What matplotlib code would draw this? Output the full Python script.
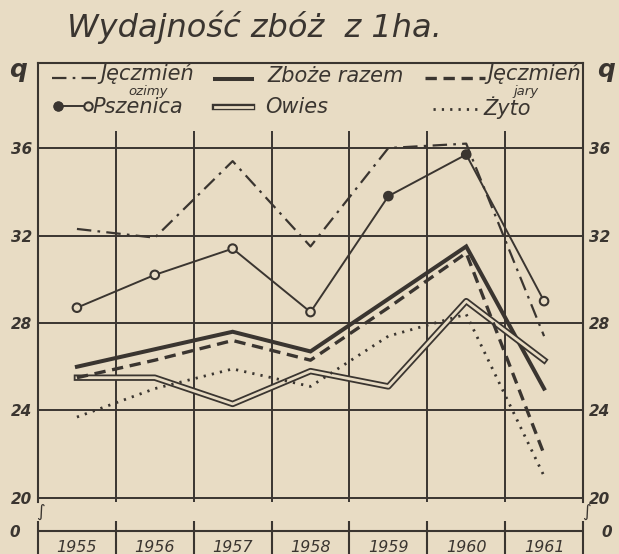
import matplotlib
matplotlib.use("Agg")
import numpy as np
import matplotlib.pyplot as plt
import matplotlib.patheffects as pe

# values (q per 1 ha)
years = ["1955", "1956", "1957", "1958", "1959", "1960", "1961"]
jeczmien_ozimy = [32.3, 31.9, 35.4, 31.5, 36.0, 36.2, 27.4]
pszenica = [28.7, 30.2, 31.4, 28.5, 33.8, 35.7, 29.0]
pszenica_filled = [False, False, False, False, True, True, False]
zboze_razem = [26.0, 26.8, 27.6, 26.7, 29.1, 31.5, 25.0]
owies = [25.5, 25.5, 24.3, 25.8, 25.1, 29.0, 26.3]
jeczmien_jary = [25.5, 26.3, 27.2, 26.3, 28.7, 31.2, 22.0]
zyto = [23.7, 25.0, 25.9, 25.1, 27.4, 28.4, 21.0]
yticks = [20, 24, 28, 32, 36]

ink = "#3a3530"
paper = "#e8dcc4"

W, H = 619, 554


def box(x0, y0, x1, y1):
    # pixel box -> figure fraction
    return [x0 / W, 1 - y1 / H, (x1 - x0) / W, (y1 - y0) / H]


fig = plt.figure(figsize=(6.19, 5.54), dpi=100, facecolor=paper)

# main panel (20 .. top)
ax = fig.add_axes(box(38, 63, 583, 502))
ax.set_facecolor("none")
ax.set_xlim(0, 7)
ax.set_ylim(19.817, 39.886)
ax.spines["bottom"].set_visible(False)
for s in ["left", "right", "top"]:
    ax.spines[s].set_color(ink)
    ax.spines[s].set_linewidth(1.5)
ax.set_xticks([])
ax.set_yticks(yticks)
ax.set_yticklabels([str(v) for v in yticks])
ax.tick_params(axis="y", length=0, labelleft=True, labelright=True,
               labelcolor=ink, labelsize=11, pad=4)
for lab in ax.get_yticklabels():
    lab.set_fontstyle("italic")
    lab.set_fontweight("bold")
ax.yaxis.grid(True, color=ink, lw=1.4)
ax.vlines(np.arange(1, 7), 19.817, 36.8, color=ink, lw=1.4)

x = np.arange(len(years)) + 0.5

ax.plot(x, jeczmien_ozimy, color=ink, lw=1.6, dashes=(6.5, 2.8, 1.2, 2.8), zorder=3)
ax.plot(x, pszenica, color=ink, lw=1.4, zorder=3)
fc = [ink if f else paper for f in pszenica_filled]
ax.scatter(x, pszenica, s=38, facecolors=fc, edgecolors=ink, linewidths=1.5, zorder=4)
ax.plot(x, zboze_razem, color=ink, lw=2.9, solid_joinstyle="miter", zorder=3)
owies_fx = [pe.Stroke(linewidth=4.6, foreground=ink), pe.Normal()]
ax.plot(x, owies, color=paper, lw=2.0, path_effects=owies_fx, zorder=3)
ax.plot(x, jeczmien_jary, color=ink, lw=2.4, dashes=(3.4, 2.0), zorder=3)
ax.plot(x, zyto, color=ink, lw=2.0, dashes=(0.8, 2.2), zorder=3)


# legend drawn by hand, like on the original
def axp(px, py):
    return (px - 38) / 545, (502 - py) / 439


def handle(px0, px1, py, **kw):
    (a, b), (c, _) = axp(px0, py), axp(px1, py)
    ax.plot([a, c], [b, b], transform=ax.transAxes, color=kw.pop("color", ink), **kw)


def label(px, py, s, size=15):
    a, b = axp(px, py)
    ax.text(a, b, s, transform=ax.transAxes, ha="left", va="center",
            fontsize=size, style="italic", color=ink, clip_on=True)


handle(52, 98, 78, lw=1.6, dashes=(6.5, 2.8, 1.2, 2.8))
label(100, 74, "Jęczmień")
label(128, 91, "ozimy", size=9.5)
handle(58, 88, 106, lw=1.4, marker="o", markersize=6, markeredgewidth=1.5,
       markerfacecolor=paper, markeredgecolor=ink)
ax.plot(*axp(58, 106), "o", transform=ax.transAxes, color=ink, markersize=6)
label(92, 107, "Pszenica")

handle(215, 252, 79, lw=2.9)
label(267, 76, "Zboże razem")
handle(215, 252, 107, color=paper, lw=2.0, path_effects=owies_fx)
label(265, 107, "Owies")

handle(425, 485, 78, lw=2.4, dashes=(3.4, 2.0))
label(487, 74, "Jęczmień")
label(514, 91, "jary", size=9.5)
handle(433, 480, 109, lw=2.0, dashes=(0.8, 2.2))
label(483, 108, "Żyto")

# bottom strip with the 0 line and years
ax2 = fig.add_axes(box(38, 521, 583, 554))
ax2.set_facecolor("none")
ax2.set_xlim(0, 7)
ax2.set_ylim(-23, 10)
for s in ax2.spines.values():
    s.set_visible(False)
ax2.set_xticks([])
ax2.set_yticks([0])
ax2.set_yticklabels(["0"])
ax2.tick_params(axis="y", length=0, labelleft=True, labelright=True,
                labelcolor=ink, labelsize=11, pad=13)
for lab in ax2.get_yticklabels():
    lab.set_fontstyle("italic")
    lab.set_fontweight("bold")
ax2.axhline(0, color=ink, lw=1.5)
ax2.vlines(np.arange(0, 8), -23, 10, color=ink, lw=1.5, clip_on=False)
for xi, yr in zip(x, years):
    ax2.text(xi, -16, yr, ha="center", va="center", fontsize=11.5,
             style="italic", color=ink)

# axis break marks and unit labels
for px in [40, 586]:
    fig.text(px / W, 1 - 512 / H, "∫", fontsize=12, color=ink,
             ha="center", va="center")
for px in [18, 606]:
    fig.text(px / W, 1 - 70 / H, "q", fontsize=18, color=ink, style="italic",
             fontweight="bold", ha="center", va="center")

fig.text(67 / W, 1 - 27 / H, "Wydajność zbóż  z 1ha.", fontsize=23,
         style="italic", color=ink, ha="left", va="center")

fig.savefig("out.png", dpi=100, facecolor=paper)
